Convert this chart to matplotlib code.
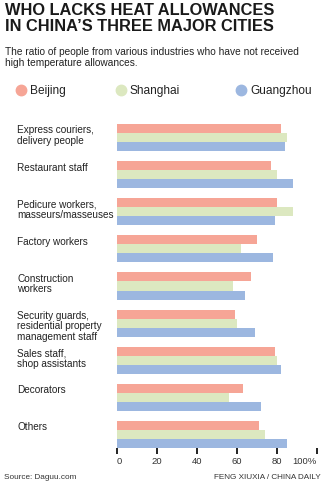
import numpy as np
import matplotlib
matplotlib.use("Agg")
import matplotlib.pyplot as plt
from matplotlib.lines import Line2D
from matplotlib.transforms import blended_transform_factory

# ─────────────────────────────────────────────
# Data: share of workers without heat allowance (%)
# ─────────────────────────────────────────────
CATEGORIES = [
    "Express couriers,\ndelivery people",
    "Restaurant staff",
    "Pedicure workers,\nmasseurs/masseuses",
    "Factory workers",
    "Construction\nworkers",
    "Security guards,\nresidential property\nmanagement staff",
    "Sales staff,\nshop assistants",
    "Decorators",
    "Others",
]
BEIJING   = [82, 77, 80, 70, 67, 59, 79, 63, 71]
SHANGHAI  = [85, 80, 88, 62, 58, 60, 80, 56, 74]
GUANGZHOU = [84, 88, 79, 78, 64, 69, 82, 72, 85]
CITIES    = ["Beijing", "Shanghai", "Guangzhou"]
XTICKS    = [0, 20, 40, 60, 80, 100]
XLABELS   = ["0", "20", "40", "60", "80", "100%"]

COLORS = {"Beijing": "#F6A596", "Shanghai": "#DCE8C0", "Guangzhou": "#9CB7E0"}
FONT   = ["Liberation Sans", "DejaVu Sans"]

W, H = 327, 489
fig = plt.figure(figsize=(W / 100, H / 100), dpi=100)
fig.patch.set_facecolor("white")
plt.rcParams["font.family"] = FONT

# axes box in pixels: x 117..317, y 125..449
ax = fig.add_axes([117 / W, (H - 449) / H, 200 / W, (449 - 125) / H])

GROUP = 4.12
series = [BEIJING, SHANGHAI, GUANGZHOU]
for k, (city, vals) in enumerate(zip(CITIES, series)):
    y = np.arange(len(CATEGORIES)) * GROUP + k
    ax.barh(y, vals, height=1.0, color=COLORS[city], linewidth=0)

ax.set_xlim(0, 100)
ax.set_ylim(8 * GROUP + 2.5, -0.5)
for s in ax.spines.values():
    s.set_visible(False)
ax.set_yticks([])
ax.set_xticks(XTICKS)
ax.set_xticklabels(XLABELS, fontsize=6.8, color="#333333")
ax.tick_params(axis="x", direction="out", length=4, width=1.3, color="#111111", pad=1.5)
labels = ax.get_xticklabels()
labels[0].set_ha("left")
labels[-1].set_ha("right")
labels[-1].set_x(103)

# category labels, left-aligned at a fixed page position
trans = blended_transform_factory(fig.transFigure, ax.transData)
for i, name in enumerate(CATEGORIES):
    ax.text(17 / W, i * GROUP - 0.45, name, transform=trans, ha="left", va="top",
            fontsize=7.2, color="#222222", linespacing=1.05)

# title and subtitle
fig.text(5 / W, 1 - 3 / H, "WHO LACKS HEAT ALLOWANCES\nIN CHINA\u2019S THREE MAJOR CITIES",
         ha="left", va="top", fontsize=11.8, fontweight="heavy", color="#1a1a1a",
         linespacing=1.05)
fig.text(5 / W, 1 - 47 / H,
         "The ratio of people from various industries who have not received\n"
         "high temperature allowances.",
         ha="left", va="top", fontsize=7.3, color="#222222", linespacing=1.15)

# legend
for x_dot, city in zip([21, 121, 241], CITIES):
    fig.add_artist(Line2D([x_dot / W], [1 - 91 / H], marker="o", markersize=7.5,
                          color=COLORS[city], linestyle="none",
                          transform=fig.transFigure))
    fig.text((x_dot + 9) / W, 1 - 91 / H, city, ha="left", va="center",
             fontsize=8.6, color="#222222")

# footer
fig.text(4 / W, 1 - 478 / H, "Source: Daguu.com", ha="left", va="center",
         fontsize=5.9, color="#333333")
fig.text(321 / W, 1 - 478 / H, "FENG XIUXIA / CHINA DAILY", ha="right", va="center",
         fontsize=5.9, color="#333333")

fig.savefig("out.png", dpi=100, facecolor="white")
